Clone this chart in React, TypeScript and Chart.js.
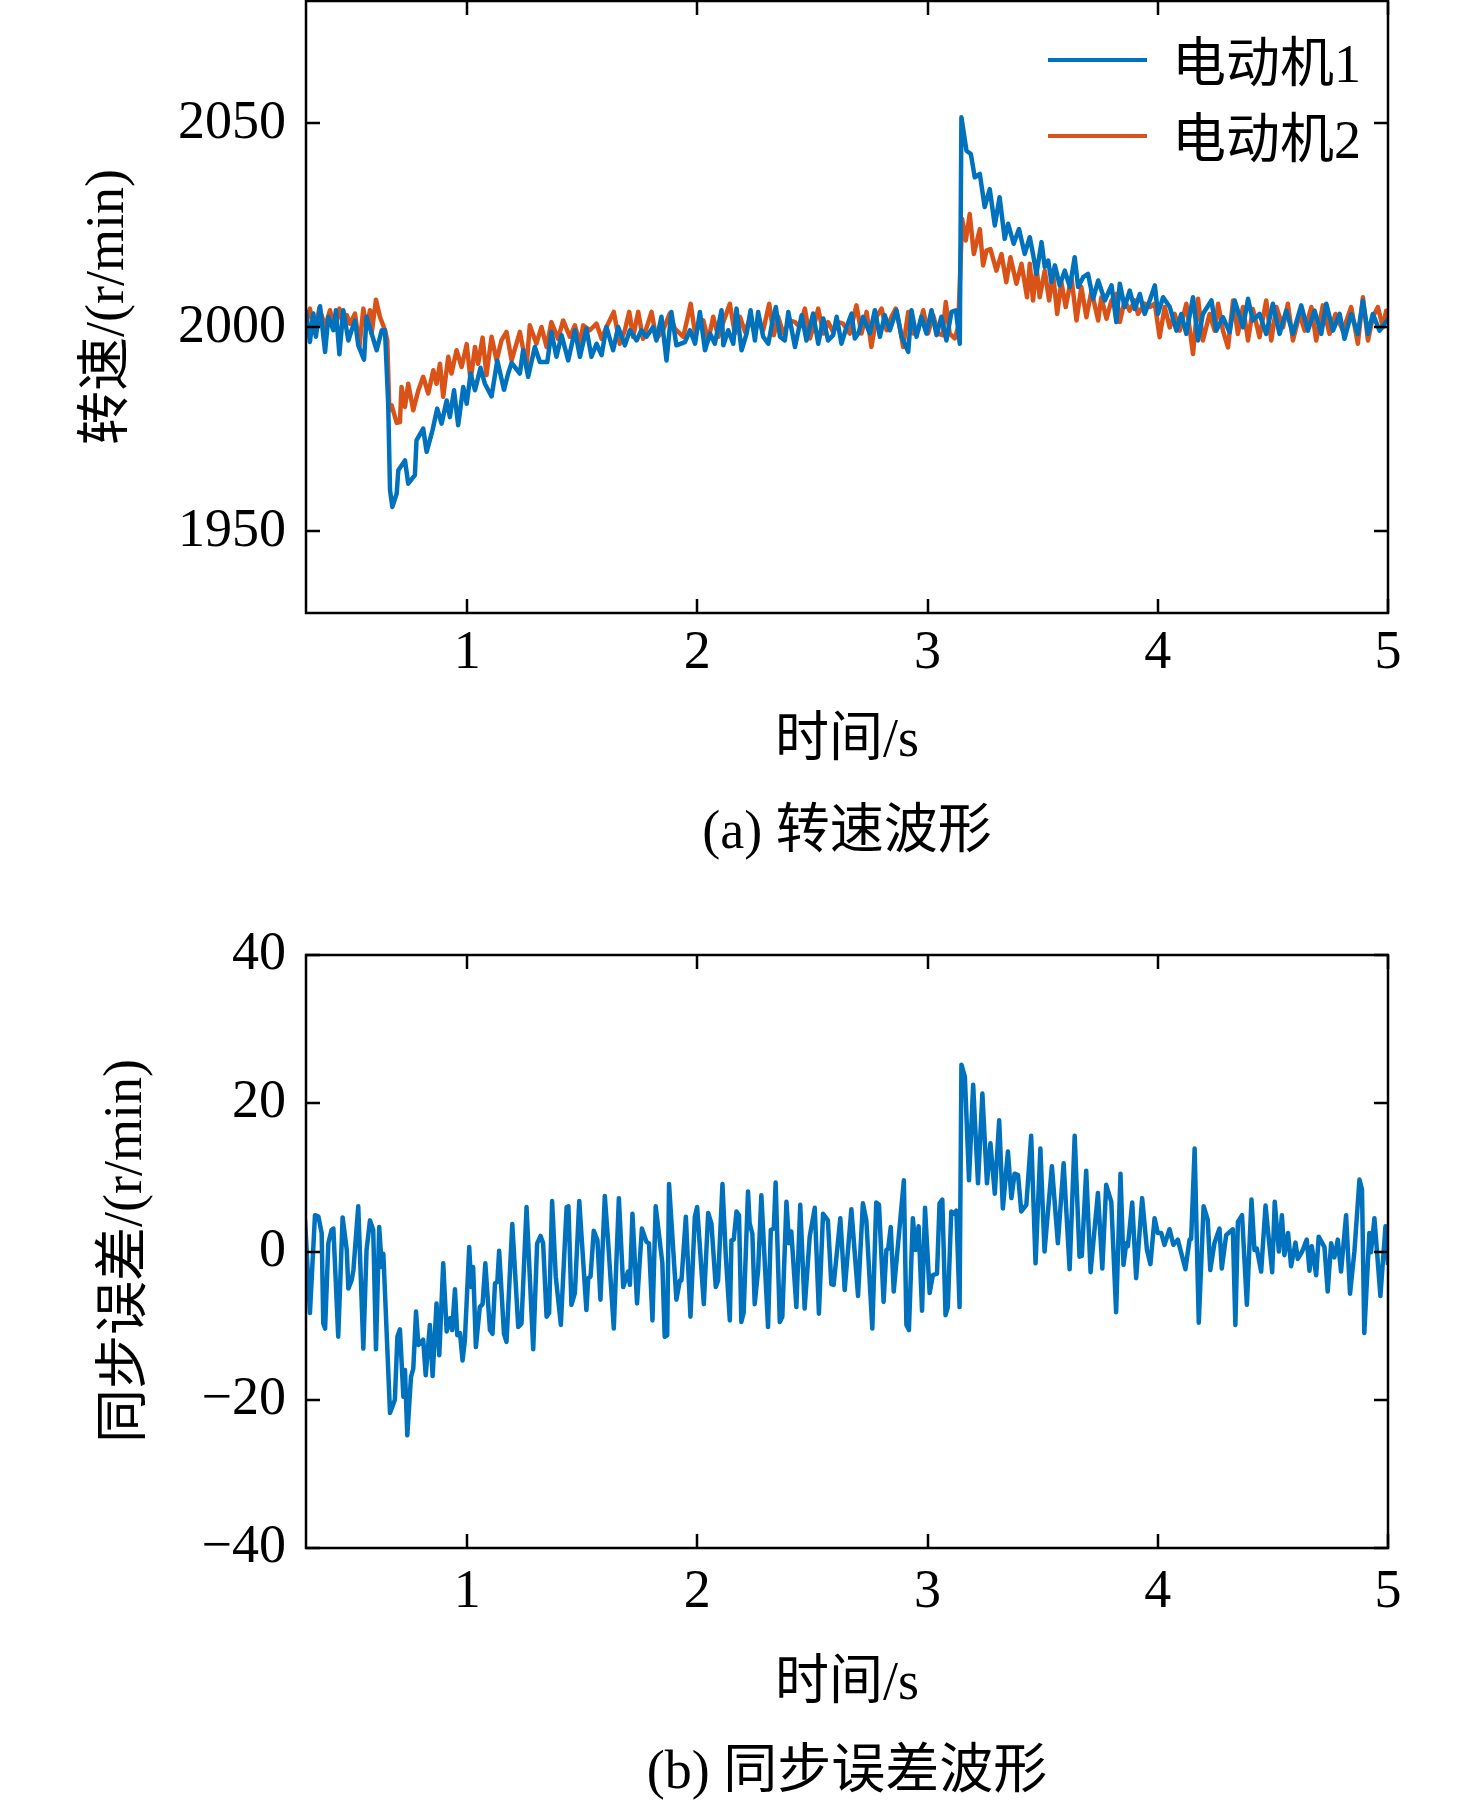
import React, { useEffect, useRef } from 'react';
import { Chart, registerables } from 'chart.js';

Chart.register(...registerables);

const BLUE = '#0072BD';
const ORANGE = '#D95319';
const FONT = '"Liberation Serif", "Noto Sans CJK SC", serif';

// time axis ticks (s) and value ticks
const timeTicks = [1, 2, 3, 4, 5];
const speedTicks = [1950, 2000, 2050];
const errorTicks = [-40, -20, 0, 20, 40];

// 电动机1 speed (r/min)
const motor1Time = [
  0.300, 0.317, 0.332, 0.343, 0.361, 0.383, 0.397, 0.419, 0.430, 0.445,
  0.462, 0.484, 0.498, 0.513, 0.527, 0.552, 0.563, 0.585, 0.607, 0.629,
  0.643, 0.657, 0.665, 0.675, 0.694, 0.701, 0.730, 0.744, 0.773, 0.780,
  0.809, 0.824, 0.850, 0.870, 0.889, 0.911, 0.925, 0.943, 0.961, 0.983,
  0.998, 1.015, 1.034, 1.058, 1.077, 1.106, 1.131, 1.160, 1.178, 1.193,
  1.229, 1.243, 1.265, 1.294, 1.316, 1.348, 1.366, 1.388, 1.410, 1.439,
  1.468, 1.490, 1.518, 1.540, 1.562, 1.584, 1.605, 1.634, 1.656, 1.685,
  1.707, 1.736, 1.757, 1.779, 1.808, 1.822, 1.844, 1.866, 1.887, 1.909,
  1.946, 1.968, 1.990, 2.011, 2.033, 2.055, 2.076, 2.105, 2.113, 2.134,
  2.156, 2.170, 2.192, 2.214, 2.231, 2.250, 2.264, 2.286, 2.308, 2.330,
  2.341, 2.359, 2.380, 2.395, 2.424, 2.453, 2.474, 2.503, 2.525, 2.547,
  2.568, 2.590, 2.605, 2.626, 2.648, 2.670, 2.684, 2.699, 2.720, 2.749,
  2.771, 2.793, 2.814, 2.836, 2.865, 2.887, 2.916, 2.930, 2.952, 2.973,
  2.995, 3.017, 3.039, 3.060, 3.082, 3.104, 3.123, 3.140,
  3.147, 3.169, 3.188, 3.205, 3.227, 3.248, 3.270, 3.292, 3.313, 3.335,
  3.350, 3.374, 3.397, 3.422,
  3.444, 3.458, 3.473, 3.495, 3.509, 3.524, 3.538, 3.553, 3.574, 3.596,
  3.618, 3.639, 3.654, 3.676, 3.697, 3.719, 3.741, 3.770, 3.799, 3.820,
  3.835, 3.856, 3.878, 3.900, 3.922, 3.943, 3.965, 3.987, 4.001, 4.023,
  4.052, 4.081, 4.102, 4.124, 4.153, 4.175, 4.196, 4.233, 4.254, 4.283,
  4.312, 4.334, 4.370, 4.392, 4.413, 4.442, 4.471, 4.500, 4.529, 4.558,
  4.587, 4.623, 4.652, 4.681, 4.710, 4.732, 4.761, 4.790, 4.811, 4.840,
  4.869, 4.891, 4.913, 4.934, 4.963, 4.985, 5.000,
];
const motor1Speed = [
  2004.2, 1996.4, 2003.4, 1997.7, 2005.2, 1994.0, 2002.6, 1999.3, 2004.2, 1993.4,
  2004.2, 1996.8, 1999.3, 2001.7, 1995.6, 1992.1, 2002.6, 1998.5, 1994.4, 1999.3,
  1999.3, 1981.3, 1960.1, 1956.0, 1959.3, 1965.0, 1967.4, 1961.7, 1963.8, 1972.3,
  1975.2, 1969.5, 1974.9, 1980.1, 1976.4, 1982.1, 1978.0, 1984.6, 1976.0, 1985.4,
  1981.3, 1988.7, 1984.6, 1990.1, 1986.2, 1983.1, 1991.9, 1984.7, 1988.7, 1991.3,
  1988.7, 1994.4, 1987.9, 1995.2, 1991.5, 1991.5, 1998.9, 1992.8, 1998.1, 1991.9,
  1999.3, 1992.8, 1999.7, 1992.8, 1996.0, 1993.2, 2000.1, 1994.4, 2000.1, 1995.6,
  1999.3, 1996.8, 1999.3, 1997.7, 2000.1, 1996.8, 2002.6, 1991.9, 2003.8, 1995.6,
  1996.4, 1999.3, 1996.0, 2003.8, 1994.4, 1998.5, 1996.0, 2004.2, 1995.6, 1999.3,
  1996.0, 2004.6, 1994.4, 1998.5, 2004.2, 1996.8, 2003.8, 1997.7, 1996.0, 2002.6,
  2005.0, 1997.7, 1996.8, 2003.8, 1995.2, 2003.0, 1996.8, 2003.4, 1996.0, 2002.2,
  1996.8, 1998.1, 2002.6, 1996.0, 2000.1, 2003.4, 1997.3, 1998.5, 2002.6, 1998.5,
  2004.2, 1997.7, 2003.0, 1999.3, 2004.2, 1997.7, 1994.0, 2004.2, 1997.7, 2002.6,
  1998.5, 2004.2, 1998.1, 2002.6, 1996.8, 2003.8, 2004.2, 1996.0,
  2051.5, 2043.3, 2042.5, 2036.8, 2037.6, 2029.5, 2033.9, 2025.0, 2031.9, 2021.7,
  2025.4, 2020.5, 2024.1, 2018.0,
  2022.1, 2018.0, 2013.1, 2020.9, 2014.8, 2016.4, 2011.1, 2015.2, 2010.3, 2013.9,
  2009.9, 2017.2, 2009.9, 2012.3, 2013.1, 2007.0, 2011.5, 2006.6, 2010.3, 2001.3,
  2010.7, 2005.0, 2009.0, 2004.5, 2008.2, 2003.3, 2006.6, 2010.3, 2003.3, 2007.4,
  2005.0, 1999.2, 2003.3, 1998.4, 2007.4, 1996.8, 2003.3, 2006.6, 1999.2, 2002.5,
  1998.8, 2006.6, 2000.0, 2007.0, 2001.7, 2003.3, 1998.4, 2005.8, 1998.4, 2004.1,
  1998.4, 2005.4, 1999.2, 2004.1, 1998.4, 2005.8, 1999.2, 2003.3, 1997.2, 2003.3,
  1998.4, 2006.6, 1998.4, 2003.3, 1999.2, 2000.9, 2002.0,
];

// 电动机2 speed (r/min)
const motor2Time = [
  0.300, 0.317, 0.339, 0.358, 0.383, 0.404, 0.426, 0.445, 0.462, 0.477,
  0.491, 0.513, 0.532, 0.549, 0.563, 0.578, 0.585, 0.604, 0.621, 0.643,
  0.653, 0.662, 0.672, 0.694, 0.708, 0.715, 0.730, 0.744, 0.766, 0.788,
  0.809, 0.831, 0.853, 0.867, 0.882, 0.896, 0.918, 0.932, 0.954, 0.976,
  0.998, 1.015, 1.034, 1.048, 1.067, 1.084, 1.106, 1.128, 1.149, 1.171,
  1.193, 1.229, 1.258, 1.272, 1.301, 1.323, 1.345, 1.366, 1.395, 1.417,
  1.446, 1.468, 1.490, 1.504, 1.533, 1.562, 1.584, 1.605, 1.637, 1.663,
  1.685, 1.704, 1.721, 1.743, 1.764, 1.801, 1.822, 1.851, 1.880, 1.902,
  1.939, 1.971, 1.990, 2.008, 2.026, 2.047, 2.069, 2.091, 2.113, 2.141,
  2.163, 2.185, 2.207, 2.228, 2.250, 2.264, 2.286, 2.312, 2.332, 2.351,
  2.373, 2.402, 2.424, 2.445, 2.467, 2.489, 2.510, 2.525, 2.547, 2.568,
  2.590, 2.612, 2.633, 2.662, 2.691, 2.713, 2.735, 2.756, 2.778, 2.800,
  2.822, 2.843, 2.862, 2.879, 2.894, 2.916, 2.937, 2.959, 2.981, 3.002,
  3.024, 3.046, 3.065, 3.079, 3.096, 3.118, 3.133,
  3.150, 3.166, 3.183, 3.201, 3.227, 3.241, 3.256, 3.273, 3.299,
  3.321, 3.342, 3.360, 3.386, 3.408, 3.432,
  3.444, 3.458, 3.473, 3.487, 3.509, 3.528, 3.545, 3.563, 3.581, 3.600,
  3.625, 3.647, 3.668, 3.690, 3.712, 3.741, 3.755, 3.777, 3.799, 3.820,
  3.835, 3.856, 3.878, 3.900, 3.914, 3.943, 3.965, 3.987, 4.008, 4.030,
  4.052, 4.073, 4.095, 4.124, 4.153, 4.175, 4.196, 4.225, 4.247, 4.262,
  4.283, 4.305, 4.327, 4.348, 4.370, 4.392, 4.413, 4.442, 4.471, 4.493,
  4.515, 4.544, 4.565, 4.587, 4.616, 4.638, 4.667, 4.688, 4.717, 4.746,
  4.772, 4.804, 4.840, 4.869, 4.891, 4.913, 4.934, 4.956, 4.978, 4.992,
  5.000,
];
const motor2Speed = [
  2001.3, 2004.6, 1998.5, 2004.8, 2000.1, 2004.2, 1999.7, 2004.6, 2000.5, 2003.0,
  2000.9, 2003.4, 1995.2, 2004.6, 1999.7, 2004.2, 1998.5, 2006.8, 2002.6, 1999.3,
  1996.8, 1979.7, 1980.9, 1976.6, 1976.8, 1985.4, 1980.5, 1986.2, 1979.7, 1984.6,
  1987.9, 1983.8, 1989.5, 1986.2, 1991.1, 1983.0, 1992.8, 1988.7, 1994.4, 1990.3,
  1995.9, 1987.0, 1995.2, 1991.1, 1997.5, 1988.3, 1997.7, 1991.9, 1996.8, 1998.9,
  1991.9, 1998.9, 1990.3, 2000.5, 1996.0, 2000.1, 1995.2, 2001.3, 1997.2, 2001.7,
  1997.7, 2000.5, 1996.0, 2000.5, 1999.3, 2000.9, 1997.2, 2000.1, 2003.8, 1996.0,
  1999.3, 2003.8, 1997.7, 2003.8, 1997.2, 2003.8, 1997.2, 1999.3, 2003.4, 1999.7,
  1997.7, 2005.8, 1998.5, 2000.5, 2001.7, 1996.8, 2002.6, 1997.7, 2001.3, 2005.8,
  1998.5, 2002.6, 1998.9, 2002.2, 1998.5, 2001.7, 1999.3, 2005.8, 1998.1, 2002.6,
  1998.5, 2001.7, 2001.3, 2000.1, 2004.6, 1997.3, 2001.3, 2004.6, 1998.5, 2001.3,
  1998.9, 2001.3, 2000.9, 1998.5, 2005.4, 1998.5, 2003.8, 1995.2, 2002.6, 2004.6,
  1999.3, 2002.6, 2004.6, 2000.1, 1995.2, 2003.8, 1998.5, 1999.3, 2004.2, 1998.5,
  2003.0, 1998.5, 1998.1, 2006.2, 1998.5, 1997.3, 2000.1,
  2026.6, 2021.3, 2027.8, 2018.0, 2024.1, 2015.2, 2018.8, 2019.2, 2013.9,
  2018.0, 2011.1, 2017.2, 2010.7, 2015.6, 2007.4,
  2015.6, 2006.6, 2014.8, 2007.4, 2013.9, 2006.6, 2013.1, 2003.3, 2011.1, 2005.0,
  2012.3, 2001.7, 2009.9, 2002.5, 2009.0, 2001.7, 2007.4, 2002.1, 2006.6, 2008.2,
  2001.3, 2006.6, 2004.1, 2006.6, 2003.3, 2005.8, 2005.0, 2005.8, 1997.6, 2005.0,
  2000.0, 2003.3, 1999.2, 2005.8, 1993.5, 2007.0, 1996.8, 2003.3, 1999.2, 2005.8,
  1999.2, 1995.1, 2006.6, 1998.4, 2005.0, 1996.8, 2004.5, 1997.6, 2006.6, 1996.8,
  2005.0, 2000.0, 2005.8, 1996.8, 2003.3, 1999.2, 2005.0, 1996.8, 2005.4, 1998.4,
  2003.3, 1999.2, 2005.0, 1996.0, 2007.4, 1996.8, 2002.5, 2005.0, 2000.0, 2004.1,
  2003.0,
];

// 同步误差 (r/min)
const errorTime = [
  0.296, 0.317, 0.339, 0.354, 0.368, 0.375, 0.383, 0.397, 0.411, 0.419,
  0.440, 0.459, 0.477, 0.484, 0.498, 0.506, 0.527, 0.549, 0.563, 0.578,
  0.592, 0.604, 0.618, 0.629, 0.636, 0.665, 0.686, 0.697, 0.708, 0.723,
  0.730, 0.740, 0.756, 0.766, 0.778, 0.788, 0.809, 0.820, 0.838, 0.850,
  0.867, 0.879, 0.896, 0.911, 0.925, 0.935, 0.947, 0.957, 0.969, 0.980,
  0.990, 1.009, 1.018, 1.026, 1.038, 1.055, 1.067, 1.079, 1.099, 1.110,
  1.121, 1.131, 1.139, 1.160, 1.171, 1.196, 1.222, 1.236, 1.258, 1.287,
  1.304, 1.319, 1.330, 1.345, 1.356, 1.369, 1.385, 1.407, 1.432, 1.440,
  1.453, 1.468, 1.487, 1.518, 1.526, 1.536, 1.550, 1.566, 1.579, 1.598,
  1.612, 1.637, 1.659, 1.678, 1.699, 1.707, 1.718, 1.738, 1.759, 1.779,
  1.790, 1.805, 1.819, 1.848, 1.858, 1.869, 1.877, 1.909, 1.924, 1.931,
  1.950, 1.970,
  1.989, 1.999, 2.028, 2.047, 2.061, 2.080, 2.090, 2.109, 2.123, 2.141,
  2.148, 2.158, 2.170, 2.181, 2.191, 2.201, 2.220, 2.227, 2.239, 2.249,
  2.264, 2.278, 2.307, 2.319, 2.332, 2.340, 2.358, 2.369, 2.387, 2.398,
  2.408, 2.430, 2.447, 2.466, 2.488, 2.510, 2.528, 2.546, 2.567, 2.582,
  2.592, 2.621, 2.640, 2.669, 2.698, 2.719, 2.734, 2.760, 2.777, 2.789,
  2.809, 2.821, 2.829, 2.840, 2.853, 2.897, 2.908, 2.919, 2.936, 2.948,
  2.961, 2.976, 2.989, 3.009, 3.023, 3.041, 3.052, 3.064, 3.078, 3.088,
  3.103, 3.115, 3.125, 3.139,
  3.147, 3.162, 3.180, 3.198, 3.219, 3.238, 3.258, 3.273, 3.292, 3.311,
  3.327, 3.349, 3.364, 3.378, 3.393, 3.407, 3.429, 3.450, 3.469, 3.490,
  3.508, 3.540, 3.566, 3.591, 3.617, 3.639, 3.660, 3.670, 3.689, 3.708,
  3.740, 3.759, 3.776, 3.798, 3.819, 3.838, 3.851, 3.863, 3.870, 3.889,
  3.906, 3.932, 3.953, 3.968, 3.986, 4.000, 4.015, 4.029, 4.051, 4.068,
  4.087, 4.102, 4.120, 4.138, 4.145, 4.160, 4.178, 4.199, 4.217, 4.228,
  4.246, 4.268, 4.278, 4.297, 4.326, 4.337, 4.348, 4.366, 4.387, 4.407,
  4.420, 4.430, 4.449, 4.468, 4.478, 4.497, 4.508, 4.526, 4.539, 4.550,
  4.566, 4.579, 4.598, 4.608, 4.627, 4.647, 4.659, 4.669, 4.688, 4.699,
  4.724, 4.738, 4.753, 4.767, 4.782, 4.796, 4.818, 4.835, 4.854, 4.876,
  4.887, 4.897, 4.919, 4.926, 4.941, 4.967, 4.989, 5.000,
];
const errorValue = [
  4.2, -8.3, 4.9, 4.7, 2.5, -9.7, -10.4, 1.1, 2.9, 3.1,
  -11.5, 4.6, 0.2, -5.0, -3.9, -2.5, 6.1, -13.1, 0.2, 4.2,
  2.9, -13.2, 3.3, -2.1, -0.3, -21.8, -20.0, -11.5, -10.5, -19.6,
  -16.0, -24.8, -16.9, -15.8, -8.1, -12.6, -11.9, -16.7, -9.9, -16.8,
  -7.0, -14.0, -1.6, -10.8, -9.0, -10.6, -5.1, -11.3, -11.0, -14.7,
  -12.0, 0.6, -4.8, -2.1, -12.9, -7.5, -7.1, -1.6, -10.6, -11.1,
  -4.3, -4.1, 0.1, -11.1, -12.2, 3.7, -10.2, -9.7, 6.0, -13.2,
  1.1, 2.1, 1.1, -8.8, -8.3, 6.8, -3.4, -9.9, 6.0, 6.1,
  -7.2, -5.6, 6.8, -7.9, -3.6, -3.4, 2.8, 1.5, -6.5, 7.5,
  1.5, -10.4, 7.2, -4.8, -2.7, -4.5, 5.1, -7.0, 3.1, 1.3,
  1.1, -9.3, 6.1, -1.6, -11.5, -11.3, 9.1, -6.5, -3.9, -3.9,
  4.7, -8.8,
  4.7, 6.0, -7.1, 5.2, 3.8, -4.8, -3.9, 9.1, -0.3, -9.3,
  1.5, 1.6, 5.4, 4.9, -9.5, -8.3, 8.1, 3.8, 2.4, -7.1,
  -2.5, 7.6, -10.2, 2.9, 3.1, 9.3, -9.5, -8.8, 6.7, 1.1,
  2.7, -7.5, 6.3, -7.7, 2.0, 5.9, -8.4, 5.1, 4.2, -4.4,
  -4.5, 4.5, -5.2, 5.7, -6.0, 6.5, 4.2, -10.4, 6.6, 6.3,
  -6.8, 0.2, 0.4, 3.3, -5.4, 9.6, -9.9, -10.6, 4.5, 0.2,
  3.4, -8.0, 5.9, -5.6, -3.2, -3.0, 6.5, 7.0, -8.6, -7.5,
  5.4, 5.1, 5.5, -7.5,
  25.2, 23.6, 9.6, 22.5, 9.2, 21.3, 9.2, 14.6, 7.8, 17.7,
  5.8, 13.5, 7.2, 10.5, 10.3, 5.4, 6.3, 15.6, -1.6, 13.9,
  0.0, 11.5, 1.1, 11.9, -2.4, 15.6, -0.7, -0.6, 10.9, -2.8,
  7.9, -2.3, 9.0, 6.7, -8.2, 10.5, -1.8, 1.1, 0.7, 6.6,
  -3.6, 7.2, 0.2, -1.7, 4.5, 2.5, 2.5, 0.9, 3.0, 0.9,
  1.6, -0.2, -2.4, 1.6, 1.7, 13.9, -9.6, 6.1, 4.3, -2.5,
  1.1, 3.1, -2.3, 2.2, 3.0, -9.9, 4.0, 4.9, -7.2, 7.0,
  0.2, 0.4, -2.7, 6.2, 3.0, -2.8, 6.7, 0.0, 4.9, -0.5,
  2.5, -2.0, 1.2, -1.0, 0.0, 1.6, -2.6, 0.7, -3.2, 2.0,
  0.6, -5.4, 1.1, -0.8, 1.6, -2.7, 4.9, -5.7, 0.0, 9.7,
  8.4, -11.0, 2.5, -0.1, 4.5, -6.0, 3.4, -1.8,
];

const toPoints = (t: number[], v: number[]) =>
  t.slice(0, Math.min(t.length, v.length)).map((x, i) => ({ x, y: v[i] }));

const fmt = (v: number) => (v < 0 ? '\u2212' + Math.abs(v) : String(v));

// box around the plot with inward tick marks on all four sides
const framePlugin = {
  id: 'frame',
  afterDatasetsDraw(chart: any) {
    const { ctx, chartArea: a, scales } = chart;
    const len = 14;
    ctx.save();
    ctx.strokeStyle = '#000';
    ctx.lineWidth = 2.5;
    ctx.beginPath();
    scales.x.ticks.forEach((t: any) => {
      const px = Math.round(scales.x.getPixelForValue(t.value));
      ctx.moveTo(px, a.bottom);
      ctx.lineTo(px, a.bottom - len);
      ctx.moveTo(px, a.top);
      ctx.lineTo(px, a.top + len);
    });
    scales.y.ticks.forEach((t: any) => {
      const py = Math.round(scales.y.getPixelForValue(t.value));
      ctx.moveTo(a.left, py);
      ctx.lineTo(a.left + len, py);
      ctx.moveTo(a.right, py);
      ctx.lineTo(a.right - len, py);
    });
    ctx.stroke();
    ctx.strokeRect(a.left, a.top, a.right - a.left, a.bottom - a.top);
    ctx.restore();
  },
};

function makeOptions(yMin: number, yMax: number, yTicks: number[], areaTop: number, xAxisHeight: number, xPad: number): any {
  return {
    responsive: false,
    animation: false,
    devicePixelRatio: 1,
    layout: { padding: { top: areaTop, right: 88, left: 0, bottom: 0 } },
    plugins: { legend: { display: false }, tooltip: { enabled: false } },
    elements: { point: { radius: 0 }, line: { tension: 0, borderWidth: 4.5, borderJoinStyle: 'round' } },
    scales: {
      x: {
        type: 'linear',
        min: 0.3,
        max: 5,
        grid: { display: false, drawTicks: false },
        border: { display: false },
        afterBuildTicks: (s: any) => { s.ticks = timeTicks.map((value) => ({ value })); },
        afterFit: (s: any) => { s.height = xAxisHeight; s.paddingLeft = 0; s.paddingRight = 0; },
        ticks: { color: '#000', padding: xPad, maxRotation: 0, autoSkip: false, font: { family: FONT, size: 54 }, callback: (v: number) => fmt(v) },
      },
      y: {
        type: 'linear',
        min: yMin,
        max: yMax,
        grid: { display: false, drawTicks: false },
        border: { display: false },
        afterBuildTicks: (s: any) => { s.ticks = yTicks.map((value) => ({ value })); },
        afterFit: (s: any) => { s.width = 306; s.paddingTop = 0; s.paddingBottom = 0; },
        ticks: { color: '#000', padding: 20, autoSkip: false, font: { family: FONT, size: 54 }, callback: (v: number) => fmt(v) },
      },
    },
  };
}

const textStyle: React.CSSProperties = {
  position: 'absolute',
  fontFamily: FONT,
  fontSize: 54,
  lineHeight: 1,
  color: '#000',
  whiteSpace: 'nowrap',
};

const Centered = ({ x, y, rotate, children }: { x: number; y: number; rotate?: boolean; children: React.ReactNode }) => (
  <div style={{ ...textStyle, left: x, top: y, transform: `translate(-50%, -50%)${rotate ? ' rotate(-90deg)' : ''}` }}>{children}</div>
);

const App: React.FC = () => {
  const speedRef = useRef<HTMLCanvasElement>(null);
  const errorRef = useRef<HTMLCanvasElement>(null);

  useEffect(() => {
    document.body.style.margin = '0';
    if (!speedRef.current || !errorRef.current) return;

    const speedChart = new Chart(speedRef.current, {
      type: 'line',
      data: {
        datasets: [
          { label: '电动机1', data: toPoints(motor1Time, motor1Speed), borderColor: BLUE, backgroundColor: BLUE },
          { label: '电动机2', data: toPoints(motor2Time, motor2Speed), borderColor: ORANGE, backgroundColor: ORANGE },
        ],
      },
      options: makeOptions(1930, 2080, speedTicks, 1, 287, 8),
      plugins: [framePlugin],
    });

    const errorChart = new Chart(errorRef.current, {
      type: 'line',
      data: {
        datasets: [
          { label: '同步误差', data: toPoints(errorTime, errorValue), borderColor: BLUE, backgroundColor: BLUE },
        ],
      },
      options: makeOptions(-40, 40, errorTicks, 55, 259, 12),
      plugins: [framePlugin],
    });

    return () => {
      speedChart.destroy();
      errorChart.destroy();
    };
  }, []);

  return (
    <div style={{ position: 'relative', width: 1476, height: 1807, background: '#fff', overflow: 'hidden' }}>
      <canvas ref={speedRef} width={1476} height={900} style={{ position: 'absolute', left: 0, top: 0 }} />
      <canvas ref={errorRef} width={1476} height={907} style={{ position: 'absolute', left: 0, top: 900 }} />

      {/* legend */}
      <div style={{ position: 'absolute', left: 1048, top: 58, width: 99, height: 3.5, background: BLUE }} />
      <div style={{ position: 'absolute', left: 1048, top: 134, width: 99, height: 3.5, background: ORANGE }} />
      <div style={{ ...textStyle, left: 1172, top: 64, transform: 'translateY(-50%)' }}>电动机1</div>
      <div style={{ ...textStyle, left: 1172, top: 140, transform: 'translateY(-50%)' }}>电动机2</div>

      {/* upper panel texts */}
      <Centered x={105} y={307} rotate>转速/(r/min)</Centered>
      <Centered x={847} y={738}>时间/s</Centered>
      <Centered x={847} y={830}>(a) 转速波形</Centered>

      {/* lower panel texts */}
      <Centered x={123} y={1251} rotate>同步误差/(r/min)</Centered>
      <Centered x={847} y={1681}>时间/s</Centered>
      <Centered x={847} y={1770}>(b) 同步误差波形</Centered>
    </div>
  );
};

export default App;
